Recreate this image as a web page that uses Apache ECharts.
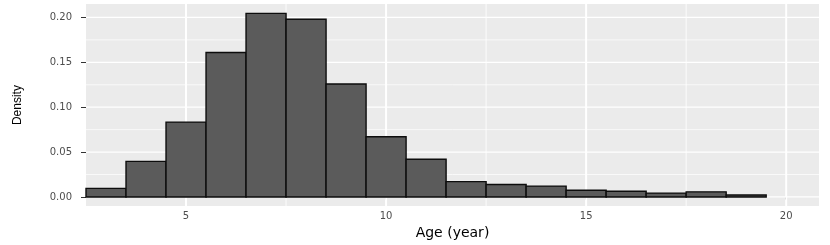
<!DOCTYPE html>
<html><head><meta charset="utf-8">
<script src="https://cdn.jsdelivr.net/npm/echarts@6/dist/echarts.min.js"></script>
<style>html,body{margin:0;padding:0;background:#fff}#c{width:830px;height:245px}</style>
</head><body><div id="c"></div>
<script>
// Histogram bins (age in years): left edges, width 1
const binStarts = [2.5, 3.5, 4.5, 5.5, 6.5, 7.5, 8.5, 9.5, 10.5, 11.5, 12.5, 13.5, 14.5, 15.5, 16.5, 17.5, 18.5];
const binWidth = 1;
const density = [0.0096, 0.0396, 0.0834, 0.161, 0.2046, 0.198, 0.1259, 0.067, 0.042, 0.0171, 0.0139, 0.0121, 0.0075, 0.0064, 0.0043, 0.0057, 0.0021];

const xTickValues = [5, 10, 15, 20];
const xMinorValues = [7.5, 12.5, 17.5];
const yTickValues = [0, 0.05, 0.1, 0.15, 0.2];
const yTickLabels = ['0.00', '0.05', '0.10', '0.15', '0.20'];
const yMinorValues = [0.025, 0.075, 0.125, 0.175];

const xMin = 2.5, xMax = 20.82, yMin = -0.0102, yMax = 0.215;

const barData = binStarts.map((s, i) => [s, s + binWidth, density[i]]);
const vLines = xTickValues.map(v => [v, 1]).concat(xMinorValues.map(v => [v, 0]));
const hLines = yTickValues.map(v => [v, 1]).concat(yMinorValues.map(v => [v, 0]));

const chart = echarts.init(document.getElementById('c'));
const labelColor = '#4D4D4D';
chart.setOption({
  animation: false,
  grid: { left: 86, right: 11, top: 4, bottom: 30.5, show: true, backgroundColor: '#EBEBEB', borderWidth: 0 },
  xAxis: {
    type: 'value', min: xMin, max: xMax,
    name: 'Age (year)', nameLocation: 'middle', nameGap: 14,
    nameTextStyle: { color: '#000', fontSize: 14, fontFamily: 'DejaVu Sans', verticalAlign: 'top' },
    axisLine: { show: false },
    splitLine: { show: false },
    axisTick: { show: true, customValues: xTickValues, length: 2.5, lineStyle: { color: '#333', width: 1.5 } },
    axisLabel: { customValues: xTickValues, color: labelColor, fontSize: 10, fontFamily: 'DejaVu Sans', margin: 5 }
  },
  yAxis: {
    type: 'value', min: yMin, max: yMax,
    name: 'Density', nameLocation: 'middle', nameRotate: 90, nameGap: 62,
    nameTextStyle: { color: '#000', fontSize: 12, fontFamily: 'Liberation Sans Narrow, Liberation Sans' },
    axisLine: { show: false },
    splitLine: { show: false },
    axisTick: { show: true, customValues: yTickValues, length: 5, lineStyle: { color: '#333', width: 1 } },
    axisLabel: { customValues: yTickValues, color: labelColor, fontSize: 10, fontFamily: 'DejaVu Sans', margin: 14,
      formatter: v => yTickLabels[yTickValues.findIndex(t => Math.abs(t - v) < 1e-9)] }
  },
  series: [
    {
      type: 'custom', silent: true, z: 1,
      data: vLines, encode: { x: 0 },
      renderItem: (params, api) => {
        const cs = params.coordSys;
        const x = api.coord([api.value(0), 0])[0];
        const major = api.value(1) === 1;
        return { type: 'line', shape: { x1: x, y1: cs.y, x2: x, y2: cs.y + cs.height },
          style: { stroke: '#FFFFFF', lineWidth: major ? 2 : 1, opacity: major ? 1 : 0.85 } };
      }
    },
    {
      type: 'custom', silent: true, z: 1,
      data: hLines, encode: { y: 0 },
      renderItem: (params, api) => {
        const cs = params.coordSys;
        const y = api.coord([xMin, api.value(0)])[1];
        const major = api.value(1) === 1;
        return { type: 'line', shape: { x1: cs.x, y1: y, x2: cs.x + cs.width, y2: y },
          style: { stroke: '#FFFFFF', lineWidth: major ? 1.2 : 0.8, opacity: major ? 1 : 0.85 } };
      }
    },
    {
      type: 'custom', z: 2,
      data: barData, encode: { x: [0, 1], y: 2 },
      renderItem: (params, api) => {
        const p0 = api.coord([api.value(0), 0]);
        const p1 = api.coord([api.value(1), api.value(2)]);
        return { type: 'rect',
          shape: { x: p0[0], y: p1[1], width: p1[0] - p0[0], height: p0[1] - p1[1] },
          style: { fill: '#5B5B5B', stroke: '#0D0D0D', lineWidth: 1.4 } };
      }
    }
  ]
});
</script></body></html>
